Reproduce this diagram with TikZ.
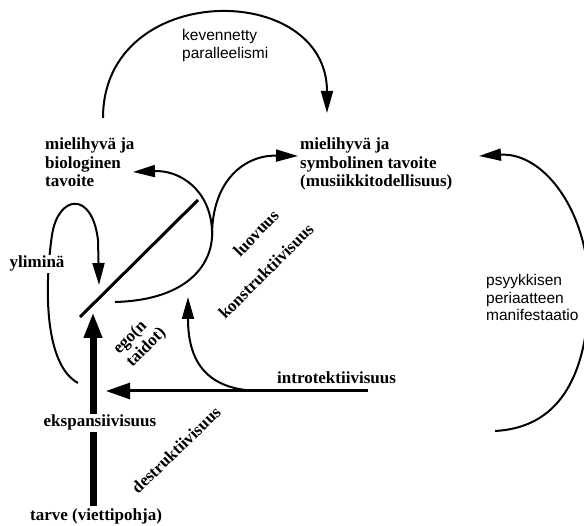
\documentclass[tikz,border=0pt]{standalone}
\usepackage{fontspec}
\setmainfont{Liberation Serif}
\newfontfamily\labelsans{Liberation Sans}
\usetikzlibrary{arrows.meta}
\begin{document}
\begin{tikzpicture}[x=1pt,y=-1pt,
  serif/.style={font=\fontsize{17}{18.5}\selectfont\bfseries, inner sep=0pt, align=left},
  sans/.style={font=\labelsans\fontsize{15.5}{17.5}\selectfont, inner sep=0pt, align=left},
  curve/.style={line width=2pt},
  tipsmall/.style={-{Triangle[length=22pt,width=12pt]}},
  tipwide/.style={-{Triangle[length=24pt,width=16pt]}},
  mask/.style={fill=white, inner sep=1.5pt}
]
\useasboundingbox (0,0) rectangle (584,526);
\clip (0,0) rectangle (584,526);

% ---- text nodes (base anchor = baseline of the last line) ----
\node[serif, anchor=base west] (bio) at (45,187) {mielihyvä ja\\biologinen\\tavoite};
\node[serif, anchor=base west] (sym) at (300,187) {mielihyvä ja\\symbolinen tavoite\\(musiikkitodellisuus)};
\node[sans, anchor=base west] (kev) at (182,58.5) {kevennetty\\paralleelismi};
\node[sans, anchor=base west] (psy) at (486,321) {psyykkisen\\periaatteen\\manifestaatio};
\node[serif, anchor=base west] (intro) at (277,384) {introtektiivisuus};
\node[serif, anchor=base west] (tarve) at (30,520) {tarve (viettipohja)};
\node[serif, rotate=46] (luo) at (256,233) {luovuus};
\node[serif, rotate=45] (kon) at (266,271) {konstruktiivisuus};
\node[serif, rotate=44] (des) at (176,450) {destruktiivisuus};
\node[serif, rotate=45] (ego) at (140,341) {ego(n\\taidot)};

% ---- anchor points of the connectors ----
\coordinate (egoA) at (80,317);
\coordinate (egoB) at (198,200);
\coordinate (shaftTip) at (93,312);
\coordinate (shaftFoot) at (93,506);
\coordinate (horzStart) at (368,391);
\coordinate (horzTip) at (106,391);
\coordinate (konStart) at (262,391);
\coordinate (konTip) at (188,297);
\coordinate (loopStart) at (115,302);
\coordinate (loopRight) at (212,230);
\coordinate (bioTip) at (133,172);
\coordinate (sCurveStart) at (212,236);
\coordinate (symTip) at (298,156);
\coordinate (arcStart) at (103,118);
\coordinate (arcTip) at (327,113);
\coordinate (yliStart) at (78,383);
\coordinate (yliTip) at (99,285);
\coordinate (manStart) at (495,431);
\coordinate (manTip) at (479,156);

% ---- ego line ----
\draw[line width=3pt] (egoA) -- (egoB);

% ---- kevennetty paralleelismi ----
\draw[curve, tipsmall] (arcStart) .. controls (103,-20) and (327,-20) .. (arcTip);

% ---- loop back to the biological goal ----
\draw[curve, tipsmall] (loopStart) .. controls (190,300) and (214,262) .. (loopRight)
  .. controls (210,190) and (180,170) .. (bioTip);

% ---- luovuus: towards the symbolic goal ----
\draw[curve, tipsmall] (sCurveStart) .. controls (212,180) and (245,155) .. (symTip);

% ---- yliminä ----
\draw[curve, tipsmall] (yliStart) .. controls (45,365) and (44,290) .. (52,235)
  .. controls (58,195) and (92,190) .. (98,240) -- (yliTip);

% ---- konstruktiivisuus ----
\draw[curve, tipsmall] (konStart) .. controls (205,391) and (188,360) .. (konTip);

% ---- introtektiivisuus ----
\draw[line width=3pt, tipwide] (horzStart) -- (horzTip);

% ---- ekspansiivisuus: thick arrow from the drive ----
\draw[line width=7pt, -{Triangle[length=26pt,width=17pt]}] (shaftFoot) -- (shaftTip);

% ---- psyykkisen periaatteen manifestaatio ----
\draw[curve, tipsmall] (manStart) .. controls (550,428) and (585,390) .. (589,300)
  .. controls (592,215) and (545,152) .. (manTip);

% ---- labels lying on lines ----
\node[serif, mask, anchor=base west] (yli) at (8,268) {yliminä};
\node[serif, mask, anchor=base west] (eks) at (42,427) {ekspansiivisuus};
\end{tikzpicture}
\end{document}
